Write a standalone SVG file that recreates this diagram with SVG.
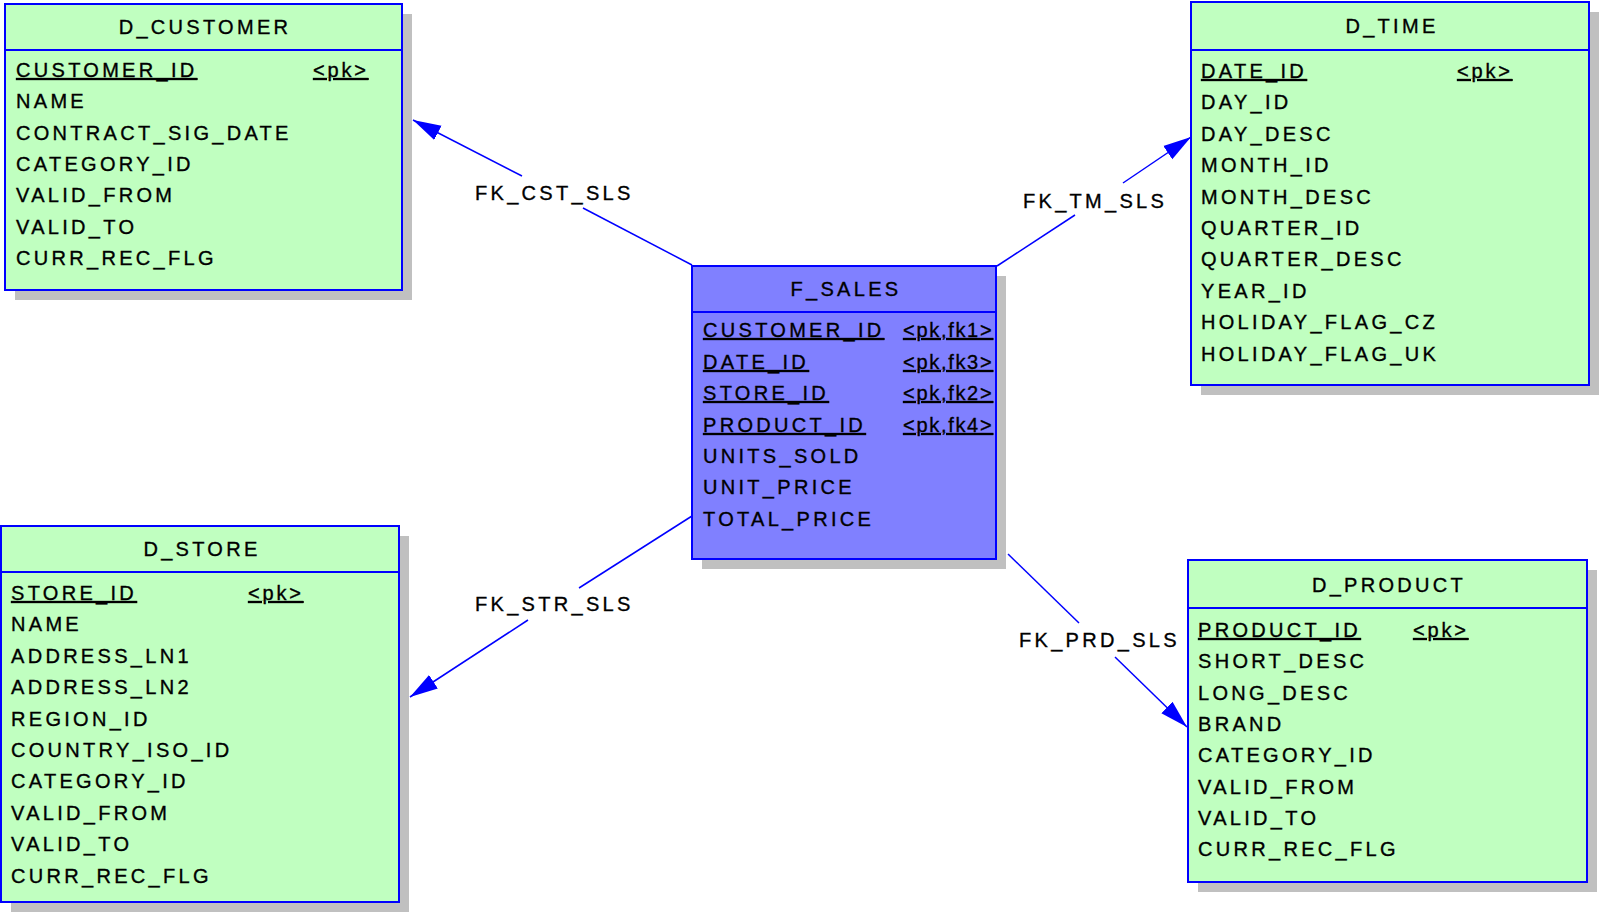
<svg xmlns="http://www.w3.org/2000/svg" width="1600" height="913" viewBox="0 0 1600 913">
<style>
.shadow{fill:#c0c0c0;stroke:none}
.box{fill:#c0ffc0;stroke:#0000ff;stroke-width:2}
.fact{fill:#8080ff;stroke:#0000ff;stroke-width:2}
.sep{stroke:#0000ff;stroke-width:2}
text{font-family:"Liberation Sans",Arial,sans-serif;font-size:20px;fill:#000;stroke:#000;stroke-width:0.35;letter-spacing:3.3px}
.title{text-anchor:middle}
.pk{text-decoration:underline}
.tag{letter-spacing:1.7px}
.conn{stroke:#0000ff;stroke-width:1.5;fill:none}
</style>
<defs>
<marker id="arr" markerUnits="userSpaceOnUse" markerWidth="30" markerHeight="20" viewBox="0 -10 30 20" refX="28" refY="0" orient="auto">
<path d="M0,-8 L28,0 L0,8 z" fill="#0000ff"/>
</marker>
</defs>
<rect width="1600" height="913" fill="#ffffff"/>

<g id="connectors">
<line class="conn" x1="692" y1="265" x2="583" y2="208"/>
<line class="conn" x1="522" y1="176" x2="413" y2="120" marker-end="url(#arr)"/>
<text x="475" y="200">FK_CST_SLS</text>
<line class="conn" x1="997" y1="266" x2="1075" y2="215"/>
<line class="conn" x1="1123" y1="183" x2="1191" y2="137" marker-end="url(#arr)"/>
<text x="1023" y="208">FK_TM_SLS</text>
<line class="conn" x1="1008" y1="554" x2="1079" y2="623"/>
<line class="conn" x1="1115" y1="657" x2="1187" y2="727" marker-end="url(#arr)"/>
<text x="1019" y="647">FK_PRD_SLS</text>
<line class="conn" x1="692" y1="516" x2="579" y2="588"/>
<line class="conn" x1="528" y1="620" x2="410" y2="697" marker-end="url(#arr)"/>
<text x="475" y="611">FK_STR_SLS</text>
</g>

<g id="d_customer">
<rect class="shadow" x="15" y="14" width="397" height="286"/>
<rect class="box" x="5" y="4" width="397" height="286"/>
<line class="sep" x1="5" y1="50" x2="402" y2="50"/>
<text class="title" x="205" y="34">D_CUSTOMER</text>
<text class="pk" x="16" y="77">CUSTOMER_ID</text>
<text class="pk" x="313" y="77" style="letter-spacing:2.8px">&lt;pk&gt;</text>
<text x="16" y="108">NAME</text>
<text x="16" y="140">CONTRACT_SIG_DATE</text>
<text x="16" y="171">CATEGORY_ID</text>
<text x="16" y="202">VALID_FROM</text>
<text x="16" y="234">VALID_TO</text>
<text x="16" y="265">CURR_REC_FLG</text>
</g>

<g id="d_time">
<rect class="shadow" x="1201" y="12" width="398" height="383"/>
<rect class="box" x="1191" y="2" width="398" height="383"/>
<line class="sep" x1="1191" y1="50" x2="1589" y2="50"/>
<text class="title" x="1392" y="33">D_TIME</text>
<text class="pk" x="1201" y="78">DATE_ID</text>
<text class="pk" x="1457" y="78" style="letter-spacing:2.8px">&lt;pk&gt;</text>
<text x="1201" y="109">DAY_ID</text>
<text x="1201" y="141">DAY_DESC</text>
<text x="1201" y="172">MONTH_ID</text>
<text x="1201" y="204">MONTH_DESC</text>
<text x="1201" y="235">QUARTER_ID</text>
<text x="1201" y="266">QUARTER_DESC</text>
<text x="1201" y="298">YEAR_ID</text>
<text x="1201" y="329">HOLIDAY_FLAG_CZ</text>
<text x="1201" y="361">HOLIDAY_FLAG_UK</text>
</g>

<g id="f_sales">
<rect class="shadow" x="702" y="276" width="304" height="293"/>
<rect class="fact" x="692" y="266" width="304" height="293"/>
<line class="sep" x1="692" y1="312" x2="996" y2="312"/>
<text class="title" x="846" y="296">F_SALES</text>
<text class="pk" x="703" y="337">CUSTOMER_ID</text>
<text class="pk tag" x="903" y="337">&lt;pk,fk1&gt;</text>
<text class="pk" x="703" y="369">DATE_ID</text>
<text class="pk tag" x="903" y="369">&lt;pk,fk3&gt;</text>
<text class="pk" x="703" y="400">STORE_ID</text>
<text class="pk tag" x="903" y="400">&lt;pk,fk2&gt;</text>
<text class="pk" x="703" y="432">PRODUCT_ID</text>
<text class="pk tag" x="903" y="432">&lt;pk,fk4&gt;</text>
<text x="703" y="463">UNITS_SOLD</text>
<text x="703" y="494">UNIT_PRICE</text>
<text x="703" y="526">TOTAL_PRICE</text>
</g>

<g id="d_store">
<rect class="shadow" x="11" y="536" width="398" height="376"/>
<rect class="box" x="1" y="526" width="398" height="376"/>
<line class="sep" x1="1" y1="572" x2="399" y2="572"/>
<text class="title" x="202" y="556">D_STORE</text>
<text class="pk" x="11" y="600">STORE_ID</text>
<text class="pk" x="248" y="600" style="letter-spacing:2.8px">&lt;pk&gt;</text>
<text x="11" y="631">NAME</text>
<text x="11" y="663">ADDRESS_LN1</text>
<text x="11" y="694">ADDRESS_LN2</text>
<text x="11" y="726">REGION_ID</text>
<text x="11" y="757">COUNTRY_ISO_ID</text>
<text x="11" y="788">CATEGORY_ID</text>
<text x="11" y="820">VALID_FROM</text>
<text x="11" y="851">VALID_TO</text>
<text x="11" y="883">CURR_REC_FLG</text>
</g>

<g id="d_product">
<rect class="shadow" x="1198" y="570" width="399" height="322"/>
<rect class="box" x="1188" y="560" width="399" height="322"/>
<line class="sep" x1="1188" y1="608" x2="1587" y2="608"/>
<text class="title" x="1389" y="592">D_PRODUCT</text>
<text class="pk" x="1198" y="637">PRODUCT_ID</text>
<text class="pk" x="1413" y="637" style="letter-spacing:2.8px">&lt;pk&gt;</text>
<text x="1198" y="668">SHORT_DESC</text>
<text x="1198" y="700">LONG_DESC</text>
<text x="1198" y="731">BRAND</text>
<text x="1198" y="762">CATEGORY_ID</text>
<text x="1198" y="794">VALID_FROM</text>
<text x="1198" y="825">VALID_TO</text>
<text x="1198" y="856">CURR_REC_FLG</text>
</g>
</svg>
